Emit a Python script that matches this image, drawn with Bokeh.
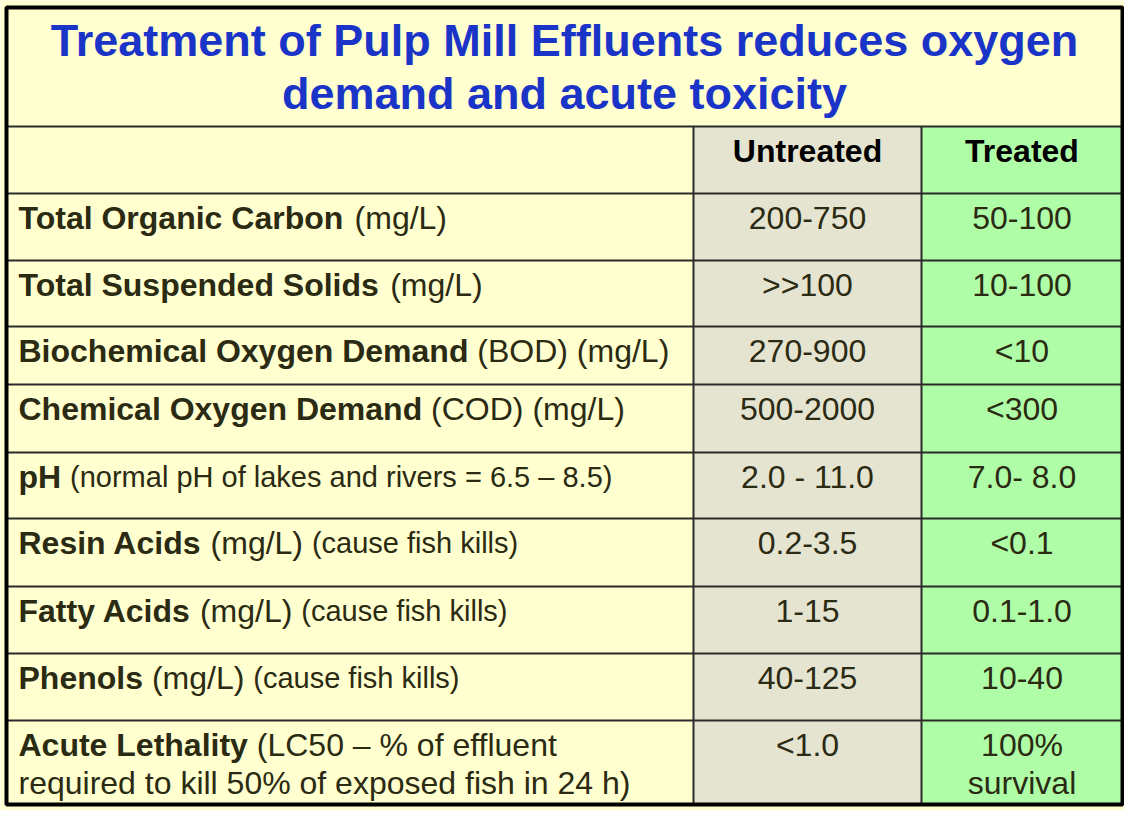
from bokeh.plotting import figure
from bokeh.models import Range1d
from bokeh.embed import file_html
from bokeh.resources import INLINE
from bokeh.core.properties import value

# ---------------- data ----------------
title_lines = ["Treatment of Pulp Mill Effluents reduces oxygen",
               "demand and acute toxicity"]
col_headers = ["Untreated", "Treated"]
param_names = ["Total Organic Carbon", "Total Suspended Solids",
               "Biochemical Oxygen Demand", "Chemical Oxygen Demand", "pH",
               "Resin Acids", "Fatty Acids", "Phenols", "Acute Lethality"]
param_units = ["(mg/L)", "(mg/L)", "(BOD) (mg/L)", "(COD) (mg/L)", "",
               "(mg/L)", "(mg/L)", "(mg/L)", "(LC50 \u2013 % of effluent"]
param_notes = ["", "", "", "", "(normal pH of lakes and rivers = 6.5 \u2013 8.5)",
               "(cause fish kills)", "(cause fish kills)", "(cause fish kills)", ""]
param_line2 = ["", "", "", "", "", "", "", "",
               "required to kill 50% of exposed fish in 24 h)"]
untreated = ["200-750", ">>100", "270-900", "500-2000", "2.0 - 11.0",
             "0.2-3.5", "1-15", "40-125", "<1.0"]
treated = ["50-100", "10-100", "<10", "<300", "7.0- 8.0",
           "<0.1", "0.1-1.0", "10-40", "100%\nsurvival"]

# ---------------- layout / style ----------------
BG = "#FFFFD0"
GRAY = "#E5E4D1"
GREEN = "#B0FDA7"
TXT = "#2B2A12"
BLUE = "#1B34C8"
FONT = "Liberation Sans"
FS = 32
FS_SMALL = 29
FS_TITLE = 45

X_L, X_C1, X_C2, X_R = 6, 693, 921, 1122
Y_T, Y_H = 7, 126
row_edges = [193, 260, 326, 384, 452, 518, 586, 653, 720, 804]
TITLE_Y = [40, 93]
LINE2_DY = 38
BASE_DY = 24

# Helvetica/Arial advance widths (1/1000 em)
REG = {' ': 278, '(': 333, ')': 333, '-': 333, '.': 278, '/': 278, '%': 889,
       '=': 584, '<': 584, '>': 584, '\u2013': 556}
BOLD = {' ': 278, '(': 333, ')': 333, '-': 333, '.': 278, '/': 278, '%': 889}
for c in "0123456789":
    REG[c] = 556
    BOLD[c] = 556
REG.update(dict(zip("ABCDEFGHIJKLMNOPQRSTUVWXYZ",
    [667, 667, 722, 722, 667, 611, 778, 722, 278, 500, 667, 556, 833, 722, 778,
     667, 778, 722, 667, 611, 722, 667, 944, 667, 667, 611])))
REG.update(dict(zip("abcdefghijklmnopqrstuvwxyz",
    [556, 556, 500, 556, 556, 278, 556, 556, 222, 222, 500, 222, 833, 556, 556,
     556, 556, 333, 500, 278, 556, 500, 722, 500, 500, 500])))
BOLD.update(dict(zip("ABCDEFGHIJKLMNOPQRSTUVWXYZ",
    [722, 722, 722, 722, 667, 611, 778, 722, 278, 556, 722, 611, 833, 722, 778,
     667, 778, 722, 667, 611, 722, 667, 944, 667, 667, 611])))
BOLD.update(dict(zip("abcdefghijklmnopqrstuvwxyz",
    [556, 611, 556, 611, 556, 333, 611, 611, 278, 278, 556, 278, 889, 611, 611,
     611, 611, 389, 556, 333, 611, 556, 778, 556, 556, 500])))


def tw(s, size, bold=False):
    tab = BOLD if bold else REG
    return sum(tab.get(ch, 556) for ch in s) * size / 1000.0


p = figure(width=1124, height=810, output_backend="svg", toolbar_location=None,
           x_range=Range1d(0, 1124), y_range=Range1d(810, 0),
           min_border=0, background_fill_color=BG, border_fill_color=BG)
p.axis.visible = False
p.grid.visible = False
p.outline_line_color = None

# column fills
p.quad(left=[X_C1, X_C2], right=[X_C2, X_R], top=[Y_H, Y_H],
       bottom=[row_edges[-1]] * 2, fill_color=[GRAY, GREEN], line_color=None)

# inner lines
hy = [Y_H] + row_edges[:-1]
p.segment(x0=[X_L] * len(hy), x1=[X_R] * len(hy), y0=hy, y1=hy,
          line_color="#2a2a2a", line_width=2)
p.segment(x0=[X_C1, X_C2], x1=[X_C1, X_C2], y0=[Y_H, Y_H],
          y1=[row_edges[-1]] * 2, line_color="#2a2a2a", line_width=2)
# outer border
p.quad(left=[X_L], right=[X_R], top=[Y_T], bottom=[row_edges[-1]],
       fill_color=None, line_color="black", line_width=4)

# title
p.text(x=[564, 564], y=TITLE_Y, text=title_lines, text_align="center",
       text_baseline="alphabetic", text_color=BLUE, text_font=value(FONT),
       text_font_style="bold", text_font_size=f"{FS_TITLE}px")

# headers
cx = [(X_C1 + X_C2) / 2, (X_C2 + X_R) / 2]
p.text(x=cx, y=[Y_H + BASE_DY] * 2, text=col_headers, text_align="center",
       text_baseline="alphabetic", text_color="black", text_font=value(FONT),
       text_font_style="bold", text_font_size=f"{FS}px")

# row label pieces
bx, by, bt = [], [], []
rx, ry, rt = [], [], []
sx, sy, st = [], [], []
vx, vy, vt = [], [], []
for i in range(len(param_names)):
    yb = row_edges[i] + BASE_DY
    x = 18
    bx.append(x); by.append(yb); bt.append(param_names[i])
    x += tw(param_names[i] + " ", FS, True)
    if param_units[i]:
        rx.append(x); ry.append(yb); rt.append(param_units[i])
        x += tw(param_units[i] + " ", FS)
    if param_notes[i]:
        sx.append(x); sy.append(yb); st.append(param_notes[i])
    if param_line2[i]:
        rx.append(18); ry.append(yb + LINE2_DY); rt.append(param_line2[i])
    for j, val in enumerate([untreated[i], treated[i]]):
        for k, part in enumerate(val.split("\n")):
            vx.append(cx[j]); vy.append(yb + k * LINE2_DY); vt.append(part)

common = dict(text_baseline="alphabetic", text_color=TXT, text_font=value(FONT))
p.text(x=bx, y=by, text=bt, text_align="left", text_font_style="bold",
       text_font_size=f"{FS}px", **common)
p.text(x=rx, y=ry, text=rt, text_align="left", text_font_size=f"{FS}px", **common)
p.text(x=sx, y=sy, text=st, text_align="left", text_font_size=f"{FS_SMALL}px", **common)
p.text(x=vx, y=vy, text=vt, text_align="center", text_font_size=f"{FS}px", **common)

open("out.html", "w").write(file_html(p, INLINE))
